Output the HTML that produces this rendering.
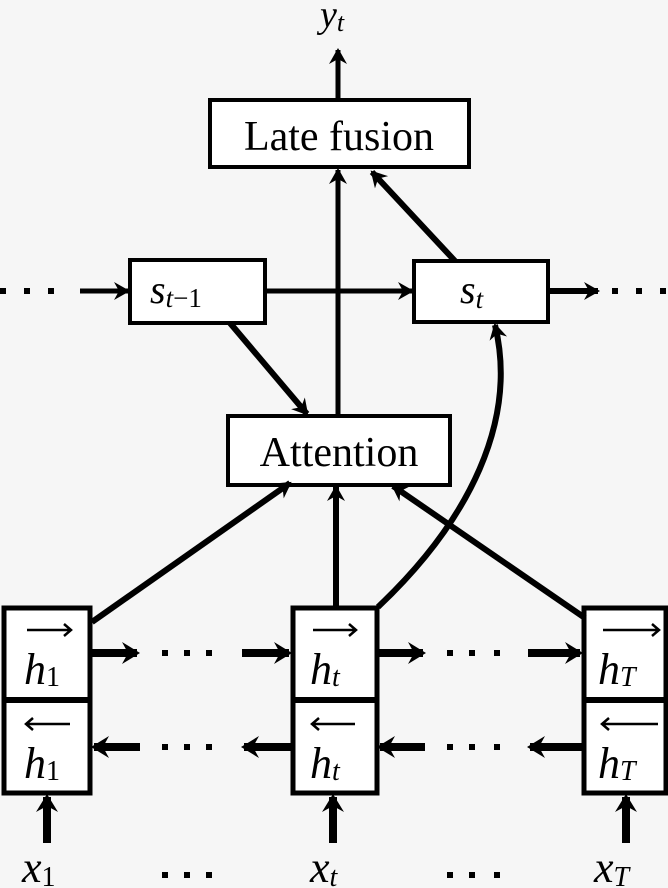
<!DOCTYPE html>
<html><head><meta charset="utf-8"><style>
html,body{margin:0;padding:0;background:#f6f6f6;}
svg{display:block;}
text{font-family:"Liberation Serif",serif;fill:#000;}
.m{font-style:italic;}
</style></head><body>
<svg width="668" height="888" viewBox="0 0 668 888" xmlns="http://www.w3.org/2000/svg">
<defs>
<marker id="a" markerWidth="20" markerHeight="20" refX="14" refY="10" orient="auto" markerUnits="userSpaceOnUse">
<path d="M0,1 L16,10 L0,19 L5,10 Z" fill="#000"/>
</marker>
<marker id="b" markerWidth="22" markerHeight="24" refX="15" refY="12" orient="auto" markerUnits="userSpaceOnUse">
<path d="M0,1 L18,12 L0,23 L6,12 Z" fill="#000"/>
</marker>
</defs>
<g fill="none" stroke="#000">
<rect x="210" y="100" width="259" height="67" stroke-width="4" fill="#fff"/>
<rect x="130" y="260" width="135" height="63" stroke-width="4" fill="#fff"/>
<rect x="414" y="261" width="134" height="61" stroke-width="4" fill="#fff"/>
<rect x="228" y="416" width="222" height="69" stroke-width="4" fill="#fff"/>
<rect x="4" y="608" width="86" height="185" stroke-width="5" fill="#fff"/>
<line x1="4" y1="700" x2="90" y2="700" stroke-width="6"/>
<rect x="293" y="608" width="84" height="185" stroke-width="5" fill="#fff"/>
<line x1="293" y1="700" x2="377" y2="700" stroke-width="6"/>
<rect x="584" y="608" width="82" height="185" stroke-width="5" fill="#fff"/>
<line x1="584" y1="700" x2="666" y2="700" stroke-width="6"/>

<line x1="338" y1="98" x2="338" y2="50" stroke-width="5" marker-end="url(#a)"/>
<line x1="338" y1="415" x2="338" y2="170" stroke-width="5" marker-end="url(#a)"/>
<line x1="455" y1="261" x2="372" y2="172" stroke-width="6" marker-end="url(#a)"/>
<line x1="80" y1="291" x2="128" y2="291" stroke-width="5" marker-end="url(#a)"/>
<line x1="265" y1="291" x2="412" y2="291" stroke-width="5" marker-end="url(#a)"/>
<line x1="548" y1="291" x2="598" y2="291" stroke-width="6" marker-end="url(#a)"/>
<line x1="230" y1="323" x2="307" y2="414" stroke-width="6" marker-end="url(#a)"/>
<line x1="92" y1="622" x2="290" y2="483" stroke-width="6" marker-end="url(#a)"/>
<line x1="336" y1="607" x2="336" y2="487" stroke-width="6" marker-end="url(#a)"/>
<line x1="585" y1="618" x2="393" y2="486" stroke-width="6" marker-end="url(#a)"/>
<path d="M378,607 C470,520 518,420 495,325" stroke-width="6" marker-end="url(#a)"/>
<line x1="92" y1="653" x2="137" y2="653" stroke-width="8" marker-end="url(#b)"/>
<line x1="242" y1="653" x2="289" y2="653" stroke-width="8" marker-end="url(#b)"/>
<line x1="378" y1="653" x2="423" y2="653" stroke-width="8" marker-end="url(#b)"/>
<line x1="528" y1="653" x2="580" y2="653" stroke-width="8" marker-end="url(#b)"/>
<line x1="140" y1="747" x2="94" y2="747" stroke-width="8" marker-end="url(#b)"/>
<line x1="292" y1="747" x2="244" y2="747" stroke-width="8" marker-end="url(#b)"/>
<line x1="425" y1="747" x2="380" y2="747" stroke-width="8" marker-end="url(#b)"/>
<line x1="583" y1="747" x2="530" y2="747" stroke-width="8" marker-end="url(#b)"/>
<line x1="47" y1="843" x2="47" y2="797" stroke-width="8" marker-end="url(#b)"/>
<line x1="333" y1="843" x2="333" y2="797" stroke-width="8" marker-end="url(#b)"/>
<line x1="626" y1="843" x2="626" y2="797" stroke-width="8" marker-end="url(#b)"/>
</g>
<g fill="#000">
<rect x="0" y="288" width="6" height="6"/><rect x="24" y="288" width="6" height="6"/><rect x="48" y="288" width="6" height="6"/>
<rect x="612" y="288" width="6" height="6"/><rect x="636" y="288" width="6" height="6"/><rect x="660" y="288" width="6" height="6"/>
<rect x="162" y="650" width="6" height="6"/><rect x="184" y="650" width="6" height="6"/><rect x="206" y="650" width="6" height="6"/>
<rect x="447" y="650" width="6" height="6"/><rect x="469" y="650" width="6" height="6"/><rect x="494" y="650" width="6" height="6"/>
<rect x="162" y="744" width="6" height="6"/><rect x="184" y="744" width="6" height="6"/><rect x="206" y="744" width="6" height="6"/>
<rect x="447" y="744" width="6" height="6"/><rect x="469" y="744" width="6" height="6"/><rect x="494" y="744" width="6" height="6"/>
<rect x="162" y="872" width="6" height="6"/><rect x="184" y="872" width="6" height="6"/><rect x="206" y="872" width="6" height="6"/>
<rect x="447" y="872" width="6" height="6"/><rect x="469" y="872" width="6" height="6"/><rect x="494" y="872" width="6" height="6"/>
</g>
<text x="320" y="27" font-size="38" class="m">y<tspan font-size="26" dy="4">t</tspan></text>
<text x="339" y="150" font-size="42" text-anchor="middle">Late fusion</text>
<text x="339" y="466" font-size="42" text-anchor="middle">Attention</text>
<text x="150" y="303" font-size="40" class="m">s<tspan font-size="27" dy="4">t</tspan><tspan font-size="27" font-style="normal">−1</tspan></text>
<text x="460" y="303" font-size="40" class="m">s<tspan font-size="27" dy="5">t</tspan></text>
<g font-size="44" class="m">
<text x="24" y="684">h<tspan font-size="28" font-style="normal" dy="2">1</tspan></text>
<text x="24" y="778">h<tspan font-size="28" font-style="normal" dy="2">1</tspan></text>
<text x="310" y="684">h<tspan font-size="28" dy="2">t</tspan></text>
<text x="310" y="778">h<tspan font-size="28" dy="2">t</tspan></text>
<text x="598" y="684">h<tspan font-size="28" dy="2">T</tspan></text>
<text x="598" y="778">h<tspan font-size="28" dy="2">T</tspan></text>
<text x="22" y="882">x<tspan font-size="28" font-style="normal" dy="4">1</tspan></text>
<text x="310" y="882">x<tspan font-size="28" dy="4">t</tspan></text>
<text x="594" y="882">x<tspan font-size="28" dy="4">T</tspan></text>
</g>
<g stroke="#000" stroke-width="2.5" fill="none">
<path d="M27,630 H70 M64,624 L71,630 L64,636"/>
<path d="M313,630 H355 M349,624 L356,630 L349,636"/>
<path d="M603,630 H658 M652,624 L659,630 L652,636"/>
<path d="M27,724 H70 M33,718 L26,724 L33,730"/>
<path d="M313,724 H355 M319,718 L312,724 L319,730"/>
<path d="M603,724 H658 M609,718 L602,724 L609,730"/>
</g>
</svg>
</body></html>
